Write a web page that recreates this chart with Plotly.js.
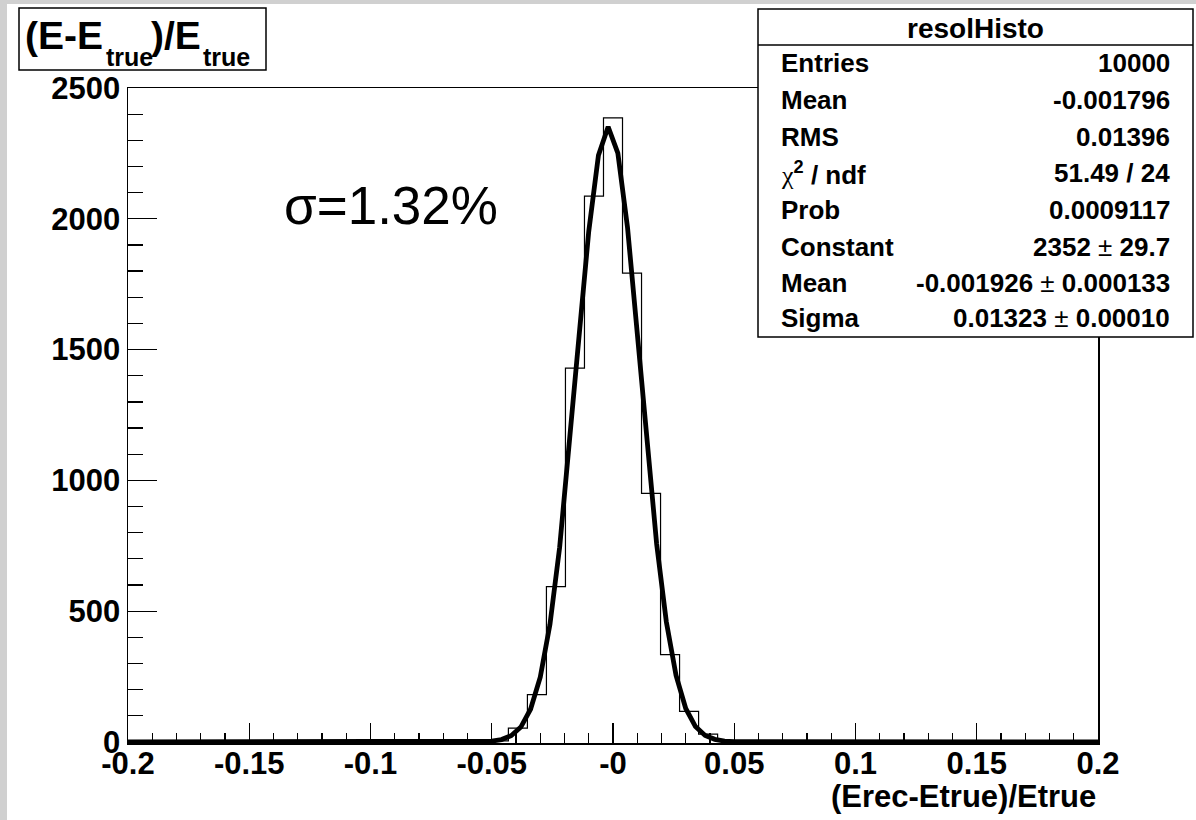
<!DOCTYPE html>
<html>
<head>
<meta charset="utf-8">
<script src="https://cdn.plot.ly/plotly-3.0.1.min.js"></script>
<style>
  html, body { margin: 0; padding: 0; background: #d0d0d0; width: 1196px; height: 820px; overflow: hidden; }
  #chart { position: absolute; left: 7px; top: 4px; width: 1189px; height: 816px; }
</style>
</head>
<body>
<div id="chart"></div>
<script>
// ---- data ----
const histLow = -0.2;
const histHigh = 0.2;
const binCounts = [
  0, 0, 0, 0, 0, 0, 0, 0, 0, 0,
  0, 0, 0, 0, 0, 0, 0, 0, 0, 4,
  53, 181, 594, 1429, 2087, 2386, 1792, 950, 334, 117,
  30, 3, 0, 0, 0, 0, 0, 0, 0, 0,
  0, 0, 0, 0, 0, 0, 0, 0, 0, 0,
  0
];
const fitX = [-0.2, -0.054, -0.05, -0.046, -0.042, -0.038, -0.034, -0.03, -0.026, -0.022, -0.018, -0.014, -0.01, -0.006, -0.002,
              0.002, 0.006, 0.01, 0.014, 0.018, 0.022, 0.026, 0.03, 0.034, 0.038, 0.042, 0.046, 0.05, 0.2];
const fitY = [0, 1, 3, 9, 24, 57, 125, 248, 449, 744, 1124, 1551, 1952, 2243, 2352,
              2251, 1966, 1567, 1140, 757, 459, 254, 128, 59, 25, 10, 3, 1, 0];
const xTickVals = [-0.2, -0.15, -0.1, -0.05, 0, 0.05, 0.1, 0.15, 0.2];
const xTickText = ["-0.2", "-0.15", "-0.1", "-0.05", "-0", "0.05", "0.1", "0.15", "0.2"];
const yTickVals = [0, 500, 1000, 1500, 2000, 2500];
const yTickText = ["0", "500", "1000", "1500", "2000", "2500"];
const statsTitle = "resolHisto";
const statsLabels = ["Entries", "Mean", "RMS", "<span style='font-family:Liberation Serif;font-weight:normal'>χ</span><sup>2</sup> / ndf", "Prob", "Constant", "Mean", "Sigma"];
const PM = "<span style='font-weight:normal'> ± </span>";
const statsValues = ["10000", "-0.001796", "0.01396", "51.49 / 24", "0.0009117", "2352" + PM + "29.7", "-0.001926" + PM + "0.000133", "0.01323" + PM + "0.00010"];
const sigmaText = "σ=1.32%";
const xTitle = "(Erec-Etrue)/Etrue";

// ---- histogram step outline from bin edges ----
const nb = binCounts.length;
const bw = (histHigh - histLow) / nb;
const stepX = [], stepY = [];
for (let i = 0; i < nb; i++) { stepX.push(histLow + i * bw); stepY.push(binCounts[i]); }
stepX.push(histHigh); stepY.push(binCounts[nb - 1]);

// ---- geometry helpers (absolute page pixel -> paper) ----
const PX0 = 128, PX1 = 1098, PY0 = 88, PY1 = 743;
const fx = p => (p - PX0) / (PX1 - PX0);
const fy = p => (PY1 - p) / (PY1 - PY0);

const FONT = 'Liberation Sans, Arial, Helvetica, sans-serif';
const bold = (size) => ({ family: FONT, size: size, color: 'black', weight: 'bold' });

const traces = [
  { type: 'scatter', mode: 'lines', x: stepX, y: stepY, line: { shape: 'hv', color: 'black', width: 1.2 }, hoverinfo: 'skip' },
  { type: 'scatter', mode: 'lines', x: fitX, y: fitY, line: { color: 'black', width: 4.8 }, hoverinfo: 'skip' }
];

const annotations = [];
function ann(text, xp, yp, xanchor, size, isBold) {
  annotations.push({
    xref: 'paper', yref: 'paper', x: fx(xp), y: fy(yp), xanchor: xanchor, yanchor: 'middle',
    text: text, showarrow: false, borderpad: 0,
    font: isBold ? bold(size) : { family: FONT, size: size, color: 'black' }
  });
}
// stats box
ann(statsTitle, 975.5, 29, 'center', 28, true);
const rowY = [63, 100, 137, 173, 210, 247, 283, 318];
for (let i = 0; i < statsLabels.length; i++) {
  ann(statsLabels[i], 780, rowY[i], 'left', 26, true);
  ann(statsValues[i], 1171, rowY[i], 'right', 26, true);
}
// y title box
ann("(E-E", 24, 36, 'left', 39, true);
ann("true", 105, 57, 'left', 25, true);
ann(")/E", 150, 36, 'left', 39, true);
ann("true", 202, 57, 'left', 25, true);
// sigma label
ann(sigmaText, 283, 206, 'left', 53, false);
// x axis title
ann(xTitle, 1097, 796, 'right', 31, true);

const shapes = [
  { type: 'rect', xref: 'paper', yref: 'paper', x0: fx(758), x1: fx(1193), y0: fy(9), y1: fy(337),
    fillcolor: 'white', line: { color: 'black', width: 1.5 }, layer: 'above' },
  { type: 'line', xref: 'paper', yref: 'paper', x0: fx(758), x1: fx(1193), y0: fy(45), y1: fy(45),
    line: { color: 'black', width: 1.5 }, layer: 'above' },
  { type: 'rect', xref: 'paper', yref: 'paper', x0: fx(19), x1: fx(266), y0: fy(8), y1: fy(70),
    fillcolor: 'white', line: { color: 'black', width: 1.5 }, layer: 'above' }
];

const layout = {
  width: 1189, height: 816,
  margin: { l: PX0 - 7, r: 1196 - PX1, t: PY0 - 4, b: 820 - PY1, pad: 0 },
  paper_bgcolor: 'white', plot_bgcolor: 'white',
  showlegend: false,
  xaxis: {
    range: [histLow, histHigh], showgrid: false, zeroline: false,
    showline: true, linecolor: 'black', linewidth: 1.5, mirror: true,
    tickmode: 'array', tickvals: xTickVals, ticktext: xTickText,
    ticks: 'inside', ticklen: 20, tickwidth: 1.3, tickcolor: 'black',
    ticklabelstandoff: -8,
    minor: { tickmode: 'linear', tick0: histLow, dtick: 0.01, ticks: 'inside', ticklen: 10, tickwidth: 1.3, tickcolor: 'black' },
    tickfont: bold(31)
  },
  yaxis: {
    range: [-4, 2500], showgrid: false, zeroline: false,
    showline: true, linecolor: 'black', linewidth: 1.5, mirror: true,
    tickmode: 'array', tickvals: yTickVals, ticktext: yTickText,
    ticks: 'inside', ticklen: 29, tickwidth: 1.3, tickcolor: 'black',
    minor: { tickmode: 'linear', tick0: 0, dtick: 100, ticks: 'inside', ticklen: 15, tickwidth: 1.3, tickcolor: 'black' },
    tickfont: bold(31)
  },
  annotations: annotations,
  shapes: shapes
};

Plotly.newPlot('chart', traces, layout, { staticPlot: true, displayModeBar: false });
</script>
</body>
</html>
